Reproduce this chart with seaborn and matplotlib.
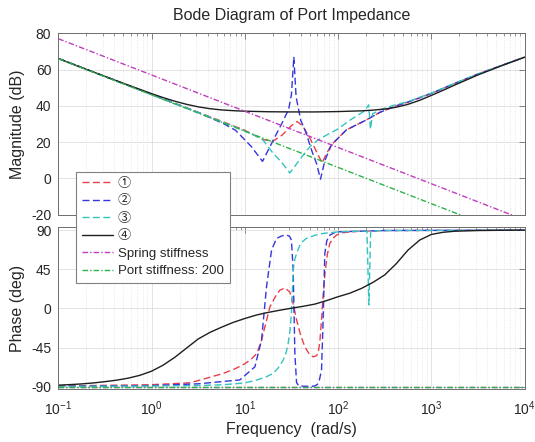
import numpy as np
import pandas as pd
import matplotlib
matplotlib.use("Agg")
import matplotlib.pyplot as plt
from matplotlib.lines import Line2D
from matplotlib.ticker import LogLocator, FixedLocator
import seaborn as sns

# ---------------- data ----------------
# frequencies are stored as log10(rad/s)
mag_lf_1 = [-1, 0, 0.5, 0.75, 1.0, 1.1, 1.2, 1.3, 1.4, 1.5, 1.56, 1.62, 1.7, 1.78, 1.83, 1.87,
            1.93, 2.09, 2.305, 2.45, 2.627, 2.75, 3.0, 3.25, 3.5, 3.75, 4.0]
mag_db_1 = [66.1, 46.3, 36.4, 31.5, 26.5, 23.8, 21.3, 20.4, 23.8, 29.0, 31.3, 29.0, 22.0, 13.5, 8.4, 13.0,
            18.5, 26.7, 32.2, 36.4, 40.0, 42.0, 46.8, 52.3, 57.5, 62.2, 66.8]

mag_lf_2 = [-1, 0, 0.5, 0.77, 0.9, 1.07, 1.19, 1.305, 1.40, 1.47, 1.50, 1.526, 1.55, 1.60, 1.65, 1.72,
            1.77, 1.812, 1.86, 1.93, 2.09, 2.305, 2.45, 2.627, 2.75, 3.0, 3.25, 3.5, 3.75, 4.0]
mag_db_2 = [66.1, 46.3, 36.3, 30.2, 26.5, 17.5, 9.3, 21.0, 30.5, 38.0, 46.0, 67.0, 45.0, 32.0, 26.0, 15.0,
            8.0, -0.5, 10.0, 18.5, 26.7, 32.2, 36.4, 40.0, 42.0, 46.8, 52.3, 57.5, 62.2, 66.8]

mag_lf_3 = [-1, 0, 0.5, 0.9, 1.0, 1.1, 1.197, 1.3, 1.4, 1.483, 1.6, 1.7, 1.787, 1.9, 2.0, 2.126,
            2.28, 2.329, 2.348, 2.37, 2.45, 2.6, 2.75, 3.0, 3.25, 3.5, 3.75, 4.0]
mag_db_3 = [66.1, 46.3, 36.3, 28.2, 26.0, 23.8, 21.0, 14.0, 8.5, 2.9, 11.0, 17.5, 21.2, 24.5, 27.2, 32.0,
            37.0, 40.5, 27.0, 35.5, 37.8, 40.3, 42.3, 47.0, 52.4, 57.5, 62.2, 66.8]

mag_lf_4 = [-1, -0.75, -0.5, -0.25, 0, 0.125, 0.25, 0.375, 0.5, 0.625, 0.75, 0.875, 1.0, 1.25, 1.5,
            1.75, 2.0, 2.25, 2.375, 2.5, 2.625, 2.75, 2.875, 3.0, 3.125, 3.25, 3.375, 3.5, 3.75, 4.0]
mag_db_4 = [66.1, 61.1, 56.2, 51.4, 46.7, 44.5, 42.5, 40.8, 39.4, 38.4, 37.7, 37.3, 37.0, 36.7, 36.6,
            36.6, 36.8, 37.2, 37.6, 38.2, 39.2, 40.8, 43.0, 45.7, 48.5, 51.4, 54.2, 57.0, 62.0, 66.8]

mag_lf_spring = [-1, 4]
mag_db_spring = [77.0, -23.0]
mag_lf_port = [-1, 4]
mag_db_port = [66.0, -34.0]

ph_lf_1 = [-1, 0, 0.41, 0.52, 0.77, 0.9, 1.0, 1.07, 1.13, 1.18, 1.27, 1.33, 1.376, 1.43, 1.483, 1.52,
           1.555, 1.6, 1.644, 1.69, 1.733, 1.765, 1.787, 1.805, 1.823, 1.84, 1.86, 1.885, 1.912,
           1.95, 1.984, 2.05, 2.2, 2.5, 4.0]
ph_deg_1 = [-89, -87.5, -85.3, -82.2, -74.5, -69, -63.5, -58, -51.6, -36.3, 2, 14, 21, 23.5, 19, 5,
            -13, -31, -44, -52, -55.5, -54.5, -51.5, -38, -13, 15, 40, 62, 74.7,
            81, 84.3, 87, 88.5, 89.5, 90]

ph_lf_2 = [-1, 0, 0.5, 0.947, 1.108, 1.18, 1.233, 1.287, 1.34, 1.40, 1.448, 1.48, 1.50, 1.519, 1.537,
           1.555, 1.58, 1.70, 1.75, 1.78, 1.80, 1.823, 1.84, 1.858, 1.88, 1.912, 1.96, 2.0, 2.5, 4.0]
ph_deg_2 = [-89.3, -88.5, -86.5, -82, -67, -36, 25, 67, 80.5, 83.5, 84.3, 83, 78.5, 44, -51.5,
            -85, -89, -89.5, -89, -87, -82, -70.7, -13, 63, 78, 84.3, 87, 88, 89.5, 90]

ph_lf_3 = [-1, 0, 0.5, 0.77, 1.0, 1.126, 1.22, 1.305, 1.36, 1.412, 1.445, 1.465, 1.485, 1.50, 1.519,
           1.535, 1.555, 1.59, 1.62, 1.662, 1.75, 1.84, 2.0, 2.31, 2.331, 2.35, 2.5, 4.0]
ph_deg_3 = [-89.5, -89, -88.5, -87.5, -85.5, -82.2, -79, -74.5, -68, -59.3, -50, -40, -25, -5.6, 44,
            56, 63, 72.5, 77, 80.5, 84, 86.2, 88, 89, 4, 89, 89.5, 90]

ph_lf_4 = [-1, -0.875, -0.75, -0.625, -0.5, -0.375, -0.25, -0.125, 0, 0.125, 0.25, 0.375, 0.5, 0.625,
           0.75, 0.875, 1.0, 1.125, 1.25, 1.375, 1.5, 1.625, 1.75, 1.875, 2.0, 2.125, 2.25, 2.375,
           2.5, 2.625, 2.75, 2.875, 3.0, 3.125, 3.25, 3.5, 3.75, 4.0]
ph_deg_4 = [-88, -87.4, -86.6, -85.5, -84, -82.3, -80, -76.7, -72, -65, -56, -45.5, -35, -27.5,
            -21.5, -16, -11.5, -7.5, -4.5, -2, 0.3, 2.5, 5, 9, 13.5, 17.5, 23, 30,
            38.5, 51.5, 67, 78.5, 85, 87.5, 88.7, 89.5, 89.8, 90]

ph_lf_spring = [-1, 4]
ph_deg_spring = [-90, -90]
ph_lf_port = [-1, 4]
ph_deg_port = [-90, -90]

labels = ["①", "②", "③", "④", "Spring stiffness", "Port stiffness: 200"]
colors = ["#E8404A", "#3535DD", "#33C4C0", "#1E1E1E", "#C03CC0", "#2DB34A"]

# ---------------- style ----------------
sns.set_style("white")
plt.rcParams["font.family"] = ["Liberation Sans", "Noto Sans CJK SC", "DejaVu Sans"]
plt.rcParams["mathtext.fontset"] = "custom"
plt.rcParams["mathtext.rm"] = "Liberation Sans"
plt.rcParams["mathtext.it"] = "Liberation Sans:italic"
plt.rcParams["mathtext.bf"] = "Liberation Sans:bold"
plt.rcParams["axes.unicode_minus"] = False

dash = (0, (5, 2.5))
dashdot = (0, (4, 1.5, 1, 1.5))
styles = [dash, dash, dash, "-", dashdot, dashdot]

fig = plt.figure(figsize=(5.35, 4.42), dpi=100, facecolor="white")
ax1 = fig.add_axes([0.109, 0.5147, 0.8714, 0.41])
ax2 = fig.add_axes([0.109, 0.1188, 0.8714, 0.3665])

mag_sets = [(mag_lf_1, mag_db_1), (mag_lf_2, mag_db_2), (mag_lf_3, mag_db_3),
            (mag_lf_4, mag_db_4), (mag_lf_spring, mag_db_spring), (mag_lf_port, mag_db_port)]
ph_sets = [(ph_lf_1, ph_deg_1), (ph_lf_2, ph_deg_2), (ph_lf_3, ph_deg_3),
           (ph_lf_4, ph_deg_4), (ph_lf_spring, ph_deg_spring), (ph_lf_port, ph_deg_port)]


def draw(ax, lf, vals, color, ls):
    df = pd.DataFrame({"f": np.power(10.0, np.array(lf, dtype=float)), "v": vals})
    sns.lineplot(data=df, x="f", y="v", ax=ax, color=color, linestyle=ls,
                 linewidth=1.0, sort=False, estimator=None, legend=False)


for (lf, v), c, ls in zip(mag_sets, colors, styles):
    draw(ax1, lf, v, c, ls)
for (lf, v), c, ls in zip(ph_sets, colors, styles):
    draw(ax2, lf, v, c, ls)

spine_c = "#6e6e6e"
text_c = "#262626"
for ax in (ax1, ax2):
    ax.set_xscale("log")
    ax.set_xlim(0.1, 1e4)
    ax.set_axisbelow(True)
    ax.xaxis.set_major_locator(FixedLocator([1e-1, 1e0, 1e1, 1e2, 1e3, 1e4]))
    ax.xaxis.set_minor_locator(LogLocator(base=10, subs=np.arange(2, 10), numticks=20))
    ax.grid(True, which="major", color="#dedede", lw=0.6, ls="-")
    ax.grid(True, which="minor", axis="x", color="#e2e2e2", lw=0.6, ls=":")
    ax.tick_params(which="both", direction="in", top=True, right=True,
                   color=spine_c, labelcolor=text_c, labelsize=10, pad=5)
    ax.tick_params(which="major", length=4, width=0.6)
    ax.tick_params(which="minor", length=2, width=0.5)
    for s in ax.spines.values():
        s.set_color(spine_c)
        s.set_linewidth(0.7)
        s.set_visible(True)
    ax.set_xlabel("")

ax1.set_ylim(-20, 80)
ax1.set_yticks([-20, 0, 20, 40, 60, 80])
ax1.tick_params(labelbottom=False)
ax1.set_ylabel("Magnitude (dB)", fontsize=11.5, color=text_c)
ax1.yaxis.set_label_coords(-0.0714, 0.5)
ax1.set_title("Bode Diagram of Port Impedance", fontsize=11.5, color=text_c, pad=9.5)

ax2.set_ylim(-93, 93)
ax2.set_yticks([-90, -45, 0, 45, 90])
ax2.tick_params(axis="x", which="major", pad=7)
ax2.set_ylabel("Phase (deg)", fontsize=11.5, color=text_c)
ax2.yaxis.set_label_coords(-0.0714, 0.5)
ax2.set_xlabel("Frequency  (rad/s)", fontsize=11.5, color=text_c, labelpad=3)

handles = [Line2D([0], [0], color=c, lw=1.0, linestyle=ls) for c, ls in zip(colors, styles)]
leg = fig.legend(handles, labels, loc="upper left", bbox_to_anchor=(0.1415, 0.6115),
                 bbox_transform=fig.transFigure, borderaxespad=0, fontsize=9.5,
                 frameon=True, fancybox=False, edgecolor="#808080", framealpha=1,
                 handlelength=2.4, handletextpad=0.35, labelspacing=0.4, borderpad=0.45)
leg.get_frame().set_linewidth(0.8)
for t in leg.get_texts():
    t.set_color(text_c)

fig.savefig("out.png", dpi=100, facecolor="white")
